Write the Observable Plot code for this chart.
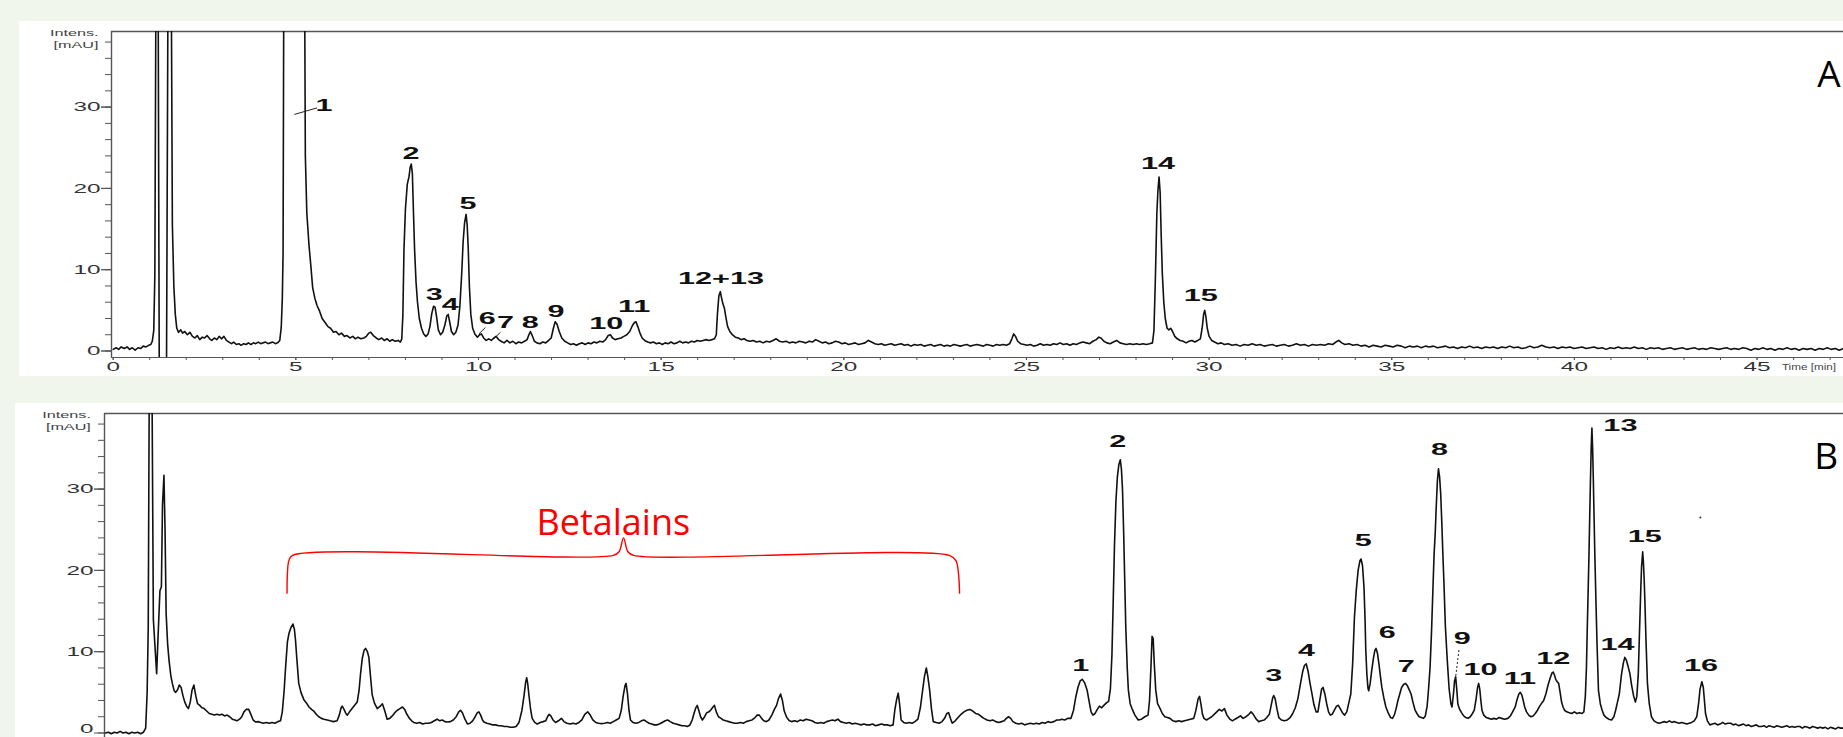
<!DOCTYPE html>
<html><head><meta charset="utf-8">
<script src="https://cdn.jsdelivr.net/npm/d3@7"></script>
<script src="https://cdn.jsdelivr.net/npm/@observablehq/plot@0.6"></script>
<style>
html,body{margin:0;padding:0;width:1843px;height:737px;overflow:hidden;background:#f1f6ed;}
.panel{position:absolute;background:#fff;overflow:hidden;}
.panel svg{max-width:none !important;}
#panelA{left:19px;top:21px;width:1824px;height:355px;}
#panelB{left:15px;top:403px;width:1828px;height:334px;}
</style></head><body>
<div id="panelA" class="panel"></div>
<div id="panelB" class="panel"></div>
<script>
// ---------- DATA ----------
// Panel A trace: [time (min), intensity (mAU)]; 45 = off-scale, -1.5 = below axis
const traceA = [
[0.00,0.2],[0.08,0.4],[0.15,0.2],[0.22,0.5],[0.30,0.3],[0.38,0.5],[0.45,0.2],[0.52,0.4],[0.60,0.1],[0.68,0.4],[0.75,0.3],[0.82,0.6],[0.90,0.5],[0.97,0.7],[1.03,0.8],
[1.07,1.2],[1.11,2.5],[1.14,9.3],[1.17,45],[1.23,45],[1.26,-1.5],[1.46,-1.5],[1.50,45],[1.59,45],[1.62,15.5],[1.66,8.0],[1.70,4.5],[1.74,2.8],[1.79,2.3],
[1.85,2.6],[1.90,2.2],[1.96,2.4],[2.03,2.0],[2.10,2.3],[2.17,1.8],[2.24,1.6],[2.30,1.9],[2.37,1.4],[2.44,1.7],[2.50,1.6],[2.57,1.9],[2.64,1.5],[2.70,1.3],[2.77,1.6],[2.84,1.4],[2.90,1.8],[2.97,1.5],[3.03,1.8],[3.10,1.3],[3.17,1.1],[3.24,0.9],[3.30,1.1],[3.37,0.8],[3.44,0.9],[3.50,0.7],[3.57,0.9],[3.64,0.8],[3.70,1.0],[3.77,0.8],[3.84,1.0],[3.90,0.9],[3.97,1.1],[4.04,0.9],[4.10,1.0],[4.17,1.1],[4.24,0.9],[4.30,1.0],[4.37,1.1],[4.44,0.9],[4.50,1.0],[4.56,1.3],
[4.60,2.9],[4.63,6.5],[4.65,12],[4.67,45],[5.24,45],[5.26,24],[5.30,17],[5.36,13],[5.41,10.5],[5.46,7.8],[5.52,6.5],[5.58,5.6],[5.65,4.9],[5.72,4.0],[5.80,3.5],[5.88,3.0],[5.95,2.8],[6.03,2.3],[6.10,2.4],[6.18,2.0],[6.25,2.2],[6.33,1.8],[6.40,1.9],[6.48,1.6],[6.56,1.8],[6.63,1.5],[6.70,1.7],[6.78,1.5],[6.86,1.6],[6.93,1.8],[7.00,2.2],[7.05,2.3],[7.12,1.9],[7.20,1.6],[7.27,1.4],[7.35,1.6],[7.42,1.3],[7.50,1.5],[7.57,1.2],[7.64,1.4],[7.72,1.2],[7.80,1.3],[7.86,1.1],
[7.90,1.5],[7.93,4.5],[7.96,12.5],[8.00,17.5],[8.05,20.5],[8.10,21.5],[8.13,22.6],[8.16,23.0],[8.19,21.8],[8.22,17],[8.25,12.5],[8.29,8.5],[8.33,6.0],[8.38,4.0],[8.44,2.8],[8.50,2.1],[8.56,1.8],[8.62,2.1],[8.67,3.0],[8.72,4.6],[8.77,5.5],[8.81,5.4],[8.85,4.3],[8.90,2.6],[8.96,2.0],[9.02,2.3],[9.08,3.2],[9.13,4.3],[9.17,4.5],[9.21,3.6],[9.26,2.4],[9.32,2.0],[9.38,2.3],[9.44,3.2],[9.49,5.5],[9.54,9.5],[9.58,13.5],[9.62,15.8],[9.66,16.8],[9.69,15.5],[9.72,12.5],[9.75,8.0],[9.79,4.5],[9.84,2.8],[9.90,2.1],[9.97,1.7],
[10.03,2.0],[10.08,2.1],[10.14,1.6],[10.21,1.3],[10.28,1.5],[10.35,1.3],[10.42,1.6],[10.48,1.8],[10.55,1.4],[10.62,1.2],[10.70,1.0],[10.78,1.3],[10.86,1.0],[10.94,1.2],[11.02,0.9],[11.10,1.1],[11.18,1.0],[11.26,1.2],[11.33,1.4],[11.38,2.0],[11.42,2.4],[11.47,1.9],[11.53,1.2],[11.60,1.0],[11.68,0.9],[11.76,1.1],[11.84,1.0],[11.92,1.3],[11.99,1.6],[12.05,2.8],[12.10,3.6],[12.15,3.3],[12.21,2.4],[12.28,1.6],[12.36,1.2],[12.44,1.0],[12.52,0.8],[12.60,0.9],[12.68,0.7],[12.76,0.9],[12.84,1.0],[12.92,0.8],[13.00,1.0],[13.08,0.9],[13.16,1.1],[13.24,1.0],[13.32,1.2],[13.40,1.1],[13.48,1.4],[13.55,1.9],[13.61,2.0],[13.67,1.6],[13.74,1.4],[13.82,1.5],[13.90,1.6],[13.98,1.8],[14.06,2.0],[14.14,2.4],[14.21,3.1],[14.27,3.5],[14.31,3.6],[14.36,3.0],[14.42,2.2],[14.48,1.6],[14.55,1.3],[14.63,1.1],[14.71,1.0],[14.79,1.1],[14.87,0.9],[14.95,1.0],
[15.03,0.8],[15.11,1.0],[15.19,0.9],[15.27,1.1],[15.35,0.9],[15.43,1.0],[15.51,1.2],[15.59,1.0],[15.67,1.1],[15.75,1.0],[15.83,1.2],[15.91,1.1],[15.99,1.3],[16.07,1.2],[16.15,1.3],[16.23,1.4],[16.31,1.3],[16.39,1.4],[16.46,1.5],[16.51,2.0],[16.54,4.5],[16.58,6.8],[16.62,7.3],[16.65,6.6],[16.69,5.8],[16.73,5.3],[16.77,4.2],[16.82,3.0],[16.88,2.4],[16.95,2.0],[17.03,1.7],[17.11,1.6],[17.19,1.4],[17.27,1.5],[17.35,1.3],[17.43,1.2],[17.52,1.3],[17.61,1.1],[17.70,1.2],[17.79,1.0],[17.88,1.2],[17.97,1.1],[18.06,1.3],[18.15,1.5],[18.24,1.2],[18.33,1.1],[18.42,1.2],[18.51,1.0],[18.60,1.1],[18.69,1.0],[18.78,1.2],[18.87,1.1],[18.96,1.0],[19.05,1.2],[19.14,1.1],[19.23,1.4],[19.32,1.2],[19.41,1.0],[19.50,1.1],[19.59,0.9],[19.68,1.0],[19.77,1.2],[19.86,1.1],[19.95,0.9],
[20.04,1.0],[20.13,0.8],[20.22,0.9],[20.31,1.0],[20.40,0.8],[20.49,0.9],[20.58,1.0],[20.67,1.3],[20.76,1.1],[20.85,0.9],[20.94,0.8],[21.03,0.9],[21.12,0.7],[21.21,0.8],[21.30,0.9],[21.39,0.7],[21.48,0.8],[21.57,0.9],[21.66,0.7],[21.75,0.8],[21.84,0.6],[21.93,0.8],[22.02,0.7],[22.11,0.8],[22.20,0.6],[22.29,0.7],[22.38,0.8],[22.47,0.6],[22.56,0.7],[22.65,0.8],[22.74,0.6],[22.83,0.7],[22.92,0.6],[23.01,0.8],[23.10,0.7],[23.19,0.6],[23.28,0.7],[23.37,0.8],[23.46,0.6],[23.55,0.7],[23.64,0.8],[23.73,0.7],[23.82,0.6],[23.91,0.8],[24.00,0.7],[24.09,0.6],[24.18,0.8],[24.27,0.7],[24.36,0.8],[24.45,0.7],[24.54,0.9],[24.60,1.5],[24.65,2.1],[24.70,1.8],[24.76,1.2],[24.84,0.9],[24.93,0.8],
[25.02,0.7],[25.11,0.8],[25.20,0.6],[25.29,0.7],[25.38,0.9],[25.47,0.7],[25.56,0.8],[25.65,0.7],[25.74,0.9],[25.83,0.8],[25.92,1.0],[26.01,0.8],[26.10,0.9],[26.19,0.7],[26.28,0.9],[26.37,0.8],[26.46,1.0],[26.55,1.1],[26.64,1.0],[26.73,0.9],[26.82,1.2],[26.91,1.4],[26.98,1.7],[27.04,1.6],[27.12,1.2],[27.20,1.0],[27.29,0.9],[27.38,1.1],[27.47,1.3],[27.56,1.0],[27.65,0.9],[27.74,0.8],[27.83,0.9],[27.92,0.8],[28.01,0.9],[28.10,0.8],[28.19,0.9],[28.28,0.8],[28.37,0.9],[28.45,1.0],
[28.49,2.5],[28.53,9],[28.57,17],[28.60,19.8],[28.63,21.4],[28.66,19.5],[28.69,14],[28.72,9.5],[28.76,6.0],[28.80,4.0],[28.85,2.8],[28.90,2.6],[28.95,2.8],[29.00,2.4],[29.06,1.8],[29.13,1.5],[29.21,1.3],[29.29,1.2],[29.37,1.0],[29.45,1.2],[29.53,1.3],[29.61,1.1],[29.69,1.3],[29.76,1.5],[29.81,2.8],[29.85,4.5],[29.88,5.0],[29.91,4.3],[29.95,2.8],[30.00,1.8],[30.07,1.3],[30.15,1.1],[30.24,0.9],[30.33,1.0],
[30.42,0.8],[30.52,0.9],[30.63,0.7],[30.74,0.8],[30.85,0.6],[30.96,0.8],[31.07,0.7],[31.18,0.9],[31.29,0.7],[31.40,0.8],[31.51,0.6],[31.62,0.7],[31.73,0.8],[31.84,0.6],[31.95,0.7],[32.06,0.8],[32.17,0.6],[32.28,0.7],[32.39,0.9],[32.50,0.7],[32.61,0.8],[32.72,0.6],[32.83,0.8],[32.94,0.7],[33.05,0.8],[33.16,0.7],[33.27,0.9],[33.38,0.8],[33.47,1.1],[33.55,1.3],[33.63,1.0],[33.72,0.8],[33.83,0.9],[33.94,0.7],[34.05,0.8],[34.16,0.6],[34.27,0.7],[34.38,0.5],[34.49,0.7],[34.60,0.6],[34.71,0.5],[34.82,0.7],[34.93,0.6],
[35.04,0.5],[35.15,0.7],[35.26,0.6],[35.37,0.4],[35.48,0.6],[35.59,0.5],[35.70,0.6],[35.81,0.4],[35.92,0.6],[36.03,0.5],[36.14,0.6],[36.25,0.4],[36.36,0.5],[36.47,0.6],[36.58,0.4],[36.69,0.5],[36.80,0.3],[36.91,0.5],[37.02,0.4],[37.13,0.6],[37.24,0.4],[37.35,0.5],[37.46,0.3],[37.57,0.5],[37.68,0.4],[37.79,0.5],[37.90,0.3],[38.01,0.5],[38.12,0.4],[38.23,0.6],[38.34,0.4],[38.45,0.5],[38.56,0.3],[38.67,0.4],[38.78,0.6],[38.89,0.4],[39.00,0.5],[39.11,0.7],[39.22,0.5],[39.33,0.4],[39.44,0.5],[39.55,0.3],[39.66,0.5],[39.77,0.4],[39.88,0.5],[39.99,0.3],
[40.10,0.4],[40.21,0.5],[40.32,0.3],[40.43,0.4],[40.54,0.5],[40.65,0.3],[40.76,0.4],[40.87,0.2],[40.98,0.4],[41.09,0.3],[41.20,0.5],[41.31,0.3],[41.42,0.4],[41.53,0.3],[41.64,0.5],[41.75,0.3],[41.86,0.4],[41.97,0.2],[42.08,0.4],[42.19,0.3],[42.30,0.4],[42.41,0.2],[42.52,0.3],[42.63,0.4],[42.74,0.2],[42.85,0.3],[42.96,0.4],[43.07,0.2],[43.18,0.3],[43.29,0.4],[43.40,0.2],[43.51,0.3],[43.62,0.2],[43.73,0.4],[43.84,0.3],[43.95,0.2],[44.06,0.3],[44.17,0.4],[44.28,0.2],[44.39,0.3],[44.50,0.2],[44.61,0.4],[44.72,0.3],[44.83,0.1],[44.94,0.3],
[45.05,0.2],[45.16,0.4],[45.27,0.2],[45.38,0.3],[45.49,0.1],[45.60,0.3],[45.71,0.2],[45.82,0.4],[45.93,0.2],[46.04,0.3],[46.15,0.1],[46.26,0.3],[46.37,0.2],[46.48,0.3],[46.59,0.1],[46.70,0.3],[46.81,0.2],[46.92,0.4],[47.03,0.2],[47.14,0.3],[47.25,0.1],[47.36,0.3],[47.47,0.2],[47.58,0.3],[47.70,0.2],[48.0,0.3]
];

// Panel B trace
const traceB = [
[0.00,0.0],[0.08,0.1],[0.16,-0.1],[0.24,0.1],[0.32,0.0],[0.40,0.2],[0.48,0.0],[0.56,0.1],[0.64,-0.1],[0.72,0.1],[0.80,0.0],[0.88,0.1],[0.96,-0.1],[1.04,0.1],
[1.10,0.6],[1.14,5.0],[1.17,13],[1.20,45],[1.27,45],[1.31,14],[1.35,11],[1.40,7.3],[1.44,12],[1.49,17.5],[1.53,18],[1.56,28],[1.60,31.7],[1.63,25],[1.66,14.7],[1.70,11],[1.74,8.9],[1.79,7.0],[1.83,6.1],[1.88,5.2],[1.92,5.0],[1.97,5.3],[2.02,5.9],[2.07,5.6],[2.12,4.6],[2.17,3.8],[2.22,3.3],[2.27,3.0],[2.32,3.8],[2.37,5.3],[2.42,5.9],[2.47,4.6],[2.52,3.6],[2.58,3.4],[2.64,3.1],[2.70,3.0],[2.77,2.7],[2.84,2.4],[2.91,2.3],[2.98,2.2],[3.05,2.3],[3.12,2.2],[3.19,2.3],[3.26,2.1],[3.33,2.2],[3.40,2.0],[3.47,1.7],[3.54,1.6],[3.60,1.5],[3.67,1.7],[3.73,2.0],[3.79,2.6],[3.85,2.9],[3.92,2.9],[3.98,2.3],[4.04,1.6],[4.11,1.35],[4.18,1.4],[4.25,1.3],[4.32,1.2],[4.40,1.3],[4.48,1.2],[4.56,1.3],[4.64,1.2],[4.72,1.4],[4.79,1.5],
[4.84,2.6],[4.89,5.2],[4.93,8.1],[4.98,11.2],[5.02,12.2],[5.08,13.0],[5.13,13.4],[5.17,12.8],[5.20,11.5],[5.24,9.0],[5.29,6.1],[5.35,5.0],[5.43,4.1],[5.50,3.7],[5.57,3.2],[5.64,2.9],[5.70,2.7],[5.77,2.3],[5.84,2.0],[5.91,1.8],[5.98,1.7],[6.07,1.6],[6.15,1.5],[6.24,1.4],[6.34,1.5],[6.40,2.2],[6.45,3.1],[6.48,3.3],[6.53,2.9],[6.58,2.4],[6.62,2.2],[6.68,2.6],[6.75,3.0],[6.82,3.4],[6.89,3.8],[6.94,5.2],[6.98,7.2],[7.03,9.2],[7.08,10.2],[7.12,10.4],[7.17,10.0],[7.21,9.3],[7.25,7.2],[7.30,4.7],[7.36,3.7],[7.44,3.0],[7.52,3.3],[7.58,3.6],[7.64,2.8],[7.71,1.7],[7.78,1.8],[7.85,2.1],[7.92,2.5],[7.99,2.8],[8.06,3.0],[8.13,3.2],[8.19,2.9],[8.25,2.3],[8.32,1.8],[8.38,1.5],[8.44,1.3],[8.52,1.2],[8.60,1.3],[8.68,1.1],[8.76,1.2],[8.84,1.2],[8.92,1.3],[9.00,1.5],[9.08,1.7],[9.15,1.5],[9.22,1.6],[9.29,1.4],[9.36,1.35],[9.44,1.4],[9.52,1.6],[9.60,2.0],[9.67,2.6],[9.72,2.8],[9.77,2.5],[9.84,1.7],[9.91,1.1],[9.98,1.2],
[10.05,1.5],[10.12,2.0],[10.18,2.5],[10.22,2.6],[10.27,2.2],[10.32,1.6],[10.36,1.35],[10.44,1.2],[10.52,1.1],[10.60,1.0],[10.68,1.0],[10.76,0.9],[10.84,0.9],[10.92,0.8],[11.00,0.8],[11.08,0.7],[11.16,0.7],[11.24,0.8],[11.32,1.3],[11.40,2.8],[11.46,4.7],[11.50,6.2],[11.53,6.8],[11.56,6.0],[11.59,4.7],[11.64,2.8],[11.68,1.8],[11.75,1.3],[11.82,1.1],[11.90,1.3],[11.98,1.4],[12.05,1.5],[12.10,2.0],[12.14,2.3],[12.19,2.1],[12.25,1.6],[12.32,1.3],[12.40,1.5],[12.48,1.8],[12.55,1.4],[12.63,1.2],[12.72,1.1],[12.80,1.2],[12.88,1.1],[12.96,1.3],[13.04,1.6],[13.12,2.3],[13.20,2.6],[13.27,2.2],[13.34,1.6],[13.42,1.3],[13.50,1.2],[13.58,1.15],[13.66,1.2],[13.74,1.3],[13.82,1.2],[13.90,1.4],[13.98,1.6],[14.06,1.8],[14.12,2.8],[14.17,4.5],[14.22,5.8],[14.25,6.1],[14.29,4.8],[14.33,2.8],[14.37,1.6],[14.44,1.3],[14.52,1.2],[14.60,1.3],[14.67,1.5],[14.74,1.6],[14.81,1.4],[14.88,1.2],[14.95,1.1],
[15.02,1.0],[15.09,1.0],[15.16,1.1],[15.24,1.3],[15.32,1.5],[15.39,1.6],[15.46,1.4],[15.54,1.2],[15.62,1.1],[15.70,1.0],[15.78,0.9],[15.86,0.9],[15.93,0.8],[16.00,1.0],[16.06,1.6],[16.11,2.4],[16.16,3.1],[16.20,3.4],[16.24,2.8],[16.29,2.0],[16.34,1.6],[16.40,2.0],[16.46,2.5],[16.52,2.6],[16.58,2.9],[16.63,3.2],[16.67,3.4],[16.72,2.6],[16.78,2.0],[16.85,1.8],[16.91,1.6],[16.98,1.5],[17.06,1.4],[17.14,1.3],[17.22,1.2],[17.30,1.2],[17.38,1.3],[17.46,1.2],[17.54,1.4],[17.62,1.5],[17.70,1.6],[17.78,1.9],[17.84,2.2],[17.90,2.2],[17.96,1.8],[18.02,1.5],[18.09,1.4],[18.16,1.6],[18.24,2.2],[18.31,2.9],[18.37,3.4],[18.42,4.2],[18.48,4.8],[18.53,4.0],[18.58,2.7],[18.65,1.9],[18.72,1.5],[18.78,1.4],[18.86,1.5],[18.94,1.4],[19.02,1.6],[19.10,1.5],[19.18,1.7],[19.26,1.6],[19.34,1.5],[19.42,1.3],[19.50,1.2],[19.58,1.3],[19.66,1.2],[19.74,1.4],[19.82,1.5],[19.90,1.6],[19.97,1.5],
[20.05,1.7],[20.12,1.4],[20.20,1.3],[20.28,1.2],[20.36,1.3],[20.44,1.1],[20.52,1.2],[20.60,1.1],[20.68,1.0],[20.76,1.1],[20.84,1.0],[20.92,1.0],[21.00,1.1],[21.08,0.9],[21.16,1.0],[21.24,1.1],[21.32,1.0],[21.40,1.0],[21.48,0.9],[21.56,1.0],[21.61,2.9],[21.66,4.2],[21.70,4.9],[21.74,3.5],[21.78,1.6],[21.85,1.3],[21.92,1.2],[22.00,1.3],[22.08,1.2],[22.16,1.4],[22.24,1.7],[22.31,3.2],[22.37,5.3],[22.42,7.0],[22.47,8.0],[22.51,7.0],[22.56,5.3],[22.61,3.0],[22.66,1.4],[22.74,1.3],[22.82,1.2],[22.90,1.4],[22.97,1.8],[23.03,2.4],[23.08,2.5],[23.13,1.8],[23.18,1.2],[23.26,1.5],[23.34,1.9],[23.42,2.3],[23.50,2.6],[23.58,2.8],[23.66,2.9],[23.74,2.7],[23.82,2.4],[23.90,2.3],[23.98,2.0],[24.05,1.8],[24.13,1.6],[24.21,1.5],[24.29,1.6],[24.37,1.4],[24.45,1.3],[24.53,1.4],[24.60,1.5],[24.66,1.8],[24.72,2.0],[24.78,1.8],[24.84,1.4],[24.92,1.2],
[25.00,1.1],[25.08,1.2],[25.16,1.0],[25.24,1.1],[25.32,1.2],[25.40,1.1],[25.48,1.2],[25.56,1.1],[25.64,1.3],[25.72,1.2],[25.80,1.4],[25.88,1.3],[25.96,1.4],[26.04,1.6],[26.11,1.6],[26.18,1.7],[26.26,1.6],[26.34,1.8],[26.43,1.8],[26.50,2.8],[26.56,4.4],[26.62,5.6],[26.68,6.4],[26.74,6.6],[26.80,6.2],[26.87,5.3],[26.93,3.8],[26.98,2.6],[27.03,2.2],[27.09,2.4],[27.15,2.9],[27.21,3.3],[27.27,3.1],[27.33,3.4],[27.40,3.7],[27.46,3.9],[27.51,5.5],[27.55,9.5],[27.58,15],[27.62,23],[27.66,28.5],[27.70,31.5],[27.74,33.0],[27.78,33.6],[27.81,32.5],[27.84,30],[27.87,25],[27.90,19],[27.93,13],[27.97,8],[28.00,5.3],[28.05,3.6],[28.11,2.9],[28.18,2.2],[28.27,1.6],[28.36,1.7],[28.45,2.0],[28.54,2.2],[28.58,4.0],[28.62,8.2],[28.65,11.9],[28.68,11.6],[28.71,8.5],[28.75,5.3],[28.80,3.6],[28.87,3.0],[28.93,2.4],[29.00,2.0],[29.07,1.9],[29.14,1.8],[29.22,1.5],[29.30,1.4],[29.38,1.5],[29.46,1.4],[29.54,1.5],[29.62,1.6],[29.70,1.7],[29.79,1.8],[29.85,2.8],[29.91,4.2],[29.95,4.5],[29.99,3.5],
[30.03,2.3],[30.07,1.8],[30.14,1.6],[30.21,1.8],[30.28,2.0],[30.35,2.3],[30.42,2.6],[30.49,2.9],[30.56,2.7],[30.63,3.0],[30.70,2.2],[30.78,1.7],[30.85,1.5],[30.92,1.7],[31.00,1.9],[31.07,2.1],[31.14,1.8],[31.22,2.0],[31.30,2.3],[31.36,2.6],[31.42,2.3],[31.50,1.7],[31.57,1.4],[31.64,1.5],[31.72,1.6],[31.79,1.9],[31.86,2.3],[31.91,3.4],[31.95,4.3],[31.98,4.6],[32.02,4.2],[32.07,2.9],[32.12,1.9],[32.19,1.6],[32.27,1.5],[32.35,1.6],[32.43,1.9],[32.50,2.4],[32.57,3.1],[32.64,4.2],[32.71,6.0],[32.77,7.5],[32.82,8.3],[32.87,8.5],[32.92,7.6],[32.97,6.2],[33.02,5.0],[33.08,3.5],[33.14,2.6],[33.19,2.6],[33.24,4.0],[33.29,5.4],[33.33,5.6],[33.38,4.8],[33.43,3.6],[33.48,2.6],[33.53,2.2],[33.58,2.3],[33.64,2.8],[33.70,3.3],[33.75,3.4],[33.80,3.0],[33.86,2.5],[33.92,2.2],[33.98,2.6],
[34.04,3.8],[34.09,4.8],[34.14,8.5],[34.19,14.3],[34.24,17.6],[34.29,20.0],[34.34,21.2],[34.37,21.4],[34.41,20.6],[34.45,18.0],[34.48,14.0],[34.50,10.2],[34.53,7.2],[34.56,5.5],[34.58,5.2],[34.62,6.1],[34.66,7.6],[34.71,9.2],[34.75,10.2],[34.78,10.4],[34.82,9.8],[34.86,8.5],[34.90,7.0],[34.94,5.6],[34.99,4.4],[35.05,3.2],[35.12,2.4],[35.18,1.9],[35.23,1.8],[35.28,2.2],[35.33,3.0],[35.38,4.0],[35.43,4.8],[35.48,5.6],[35.54,6.0],[35.59,6.1],[35.64,5.8],[35.69,5.3],[35.74,4.8],[35.79,3.8],[35.85,2.8],[35.90,2.4],[35.96,2.0],[36.02,1.9],[36.08,1.8],[36.13,2.1],[36.18,3.3],[36.22,5.5],[36.26,8.1],[36.30,12.5],[36.34,18],[36.37,22],[36.40,24.5],[36.43,28],[36.46,31],[36.49,32.5],[36.52,31.5],[36.55,29.5],[36.58,26],[36.61,22],[36.64,18.4],[36.68,13],[36.73,9.0],[36.78,5.5],[36.83,3.6],[36.86,3.2],[36.90,4.8],[36.93,6.4],[36.96,6.9],[36.99,5.4],
[37.02,3.6],[37.06,3.0],[37.12,2.5],[37.18,2.1],[37.24,1.9],[37.30,1.8],[37.36,2.0],[37.42,2.4],[37.47,2.8],[37.52,4.2],[37.56,5.6],[37.59,6.1],[37.62,5.4],[37.65,4.0],[37.68,2.8],[37.73,2.2],[37.80,1.9],[37.87,1.8],[37.94,1.7],[38.01,1.8],[38.08,1.7],[38.15,1.9],[38.22,1.8],[38.30,1.7],[38.39,1.8],[38.46,2.1],[38.53,2.7],[38.59,3.2],[38.64,4.1],[38.69,4.8],[38.73,5.0],[38.77,4.7],[38.81,4.0],[38.85,3.2],[38.90,2.6],[38.96,2.2],[39.02,2.0],[39.08,2.1],[39.14,2.4],[39.20,2.8],[39.26,3.3],[39.32,3.7],[39.37,4.0],[39.43,4.8],[39.49,5.9],[39.55,6.8],[39.60,7.4],[39.63,7.5],[39.66,7.2],[39.70,6.6],[39.74,6.3],[39.78,6.1],[39.82,5.0],[39.86,3.8],[39.90,3.2],[39.94,2.8],
[40.00,2.6],[40.07,2.5],[40.14,2.4],[40.21,2.6],[40.28,2.4],[40.35,2.5],[40.42,2.4],[40.47,2.6],[40.51,4.5],[40.54,8],[40.56,12.2],[40.59,18],[40.61,22],[40.63,26.6],[40.65,31],[40.67,35],[40.69,37.5],[40.71,35],[40.73,31],[40.74,28.6],[40.77,22],[40.80,16.3],[40.83,11],[40.87,5.2],[40.92,3.6],[40.97,2.8],[41.02,2.2],[41.08,1.9],[41.15,1.7],[41.23,1.6],[41.29,2.0],[41.34,2.8],[41.39,3.8],[41.44,4.8],[41.50,7.2],[41.55,8.6],[41.59,9.3],[41.63,9.0],[41.68,8.2],[41.73,7.3],[41.78,5.8],[41.83,4.6],[41.88,3.8],[41.92,4.5],[41.96,7.3],[41.99,12],[42.01,15],[42.03,18.0],[42.05,20.5],[42.08,22.3],[42.10,21],[42.12,19],[42.14,16.3],[42.17,11.5],[42.21,6.1],[42.26,3.6],[42.32,2.0],[42.39,1.5],[42.46,1.3],[42.53,1.2],[42.60,1.3],[42.67,1.4],[42.74,1.3],[42.81,1.5],[42.88,1.3],[42.94,1.4],
[43.01,1.3],[43.08,1.2],[43.15,1.3],[43.22,1.2],[43.29,1.1],[43.35,1.2],[43.42,1.3],[43.49,1.5],[43.56,2.0],[43.61,3.6],[43.65,5.4],[43.70,6.3],[43.74,5.6],[43.77,4.0],[43.80,2.4],[43.85,1.5],[43.92,1.0],[43.99,1.1],[44.06,1.2],[44.13,1.0],[44.20,1.1],[44.27,1.3],[44.34,1.1],[44.41,1.2],[44.49,1.2],[44.56,1.0],[44.63,1.1],[44.70,0.9],[44.77,1.0],[44.84,1.1],[44.91,0.9],[44.98,1.0],[45.05,0.8],[45.12,0.9],[45.19,1.0],[45.26,0.8],[45.33,0.8],[45.40,0.9],[45.47,0.7],[45.54,0.9],[45.61,0.8],[45.68,0.7],[45.75,0.9],[45.82,0.8],[45.89,0.7],[45.96,0.8],[46.03,0.9],[46.10,0.7],[46.17,0.8],[46.24,0.7],[46.31,0.8],[46.38,0.8],[46.45,0.6],[46.52,0.8],[46.59,0.7],[46.66,0.6],[46.73,0.8],[46.80,0.7],[46.87,0.6],[46.94,0.7],[47.01,0.6],[47.08,0.7],[47.15,0.5],[47.22,0.7],[47.29,0.6],[47.36,0.5],[47.43,0.7],[47.50,0.6],[47.60,0.6],[48.0,0.5]
];

// Peak labels: [text, time, intensity]
const peakLabelsA = [["1",5.77,30.2],["2",8.15,24.3],["3",8.79,7.0],["4",9.23,5.7],["5",9.71,18.1],["6",10.24,4.0],["7",10.74,3.5],["8",11.42,3.5],["9",12.12,4.8],["10",13.50,3.4],["11",14.26,5.5],["12+13",16.64,8.9],["14",28.60,23.1],["15",29.77,6.8]];
const peakLabelsB = [["1",26.70,8.3],["2",27.71,35.8],["3",31.98,7.1],["4",32.88,10.2],["5",34.43,23.7],["6",35.09,12.3],["7",35.61,8.2],["8",36.52,34.9],["9",37.14,11.6],["10",37.64,7.8],["11",38.72,6.7],["12",39.63,9.2],["13",41.47,37.8],["14",41.39,10.9],["15",42.14,24.2],["16",43.68,8.3]];
// leader lines [t1, v1, t2, v2]
const leadersA = [[4.96,29.1,5.58,29.9],[10.01,2.1,10.19,2.9],[10.42,1.5,10.60,2.3]];
const leadersB = [[37.05,10.2,36.96,6.9]];
// stray dot in B
const strayB = [[43.66,26.5]];
// Betalains brace (panel B)
const braceB = [[4.97,17.2],[4.98,19.6],[5.02,21.2],[5.12,21.85],[13.90,21.85],[14.06,22.3],[14.18,24.0],[14.30,22.3],[14.46,21.85],[23.10,21.85],[23.28,21.2],[23.35,19.6],[23.38,17.2]];
const braceText = ["Betalains", 13.9, 25.8];

const yMajorTicks = [0,10,20,30];
const yMinorTicks = [0,2,4,6,8,10,12,14,16,18,20,22,24,26,28,30,32,34,36,38];
const xMajorTicks = [0,5,10,15,20,25,30,35,40,45];
const xMinorTicks = [0,1,2,3,4,5,6,7,8,9,10,11,12,13,14,15,16,17,18,19,20,21,22,23,24,25,26,27,28,29,30,31,32,33,34,35,36,37,38,39,40,41,42,43,44,45,46,47,48,49,50];

// ---------- LAYOUT ----------
const PX_PER_MIN = 36.53;
const W = 1960, H = 355, MT = 10, MB = 19;
const Y_DOMAIN = [-0.8, 39.3];
const STRETCH = 1.8;

// stretch the old-style wide instrument font; aria-label "plain" = no stretch, "s1.3" = custom factor
function stretchText(svg) {
  svg.querySelectorAll("text").forEach(t => {
    const tag = t.getAttribute("aria-label") || "";
    if (tag === "plain") return;
    const f = tag.startsWith("s") ? +tag.slice(1) : STRETCH;
    const spans = t.querySelectorAll("tspan");
    const els = spans.length ? Array.from(spans) : [t];
    for (const el of els) {
      const len = el.getComputedTextLength();
      if (len > 0) {
        el.setAttribute("textLength", (len * f).toFixed(1));
        el.setAttribute("lengthAdjust", "spacingAndGlyphs");
      }
    }
  });
}

function draw(container, cfg) {
  const axisT = (cfg.marginLeft - cfg.x0) / PX_PER_MIN; // time at the left axis line
  const labelTicks = cfg.zeroLabelDy ? yMajorTicks.filter(d => d !== 0) : yMajorTicks;
  const marks = [
    Plot.ruleY([Y_DOMAIN[1]], {stroke: "#555", strokeWidth: 1.4}),
    Plot.ruleX([axisT], {stroke: "#555", strokeWidth: 1.4}),
    Plot.axisY(yMinorTicks, {tickSize: 6, tickFormat: () => "", label: null, stroke: "#555"}),
    Plot.axisY(yMajorTicks, {tickSize: 10, tickFormat: () => "", label: null, stroke: "#555"}),
    Plot.axisY(labelTicks, {tickSize: 10, tickPadding: 1, label: null, stroke: "#555", fill: "#333", fontSize: 13.5}),
    Plot.line(cfg.trace, {x: d => d[0], y: d => d[1], stroke: "#111", strokeWidth: 1.6, clip: true}),
    Plot.text(["Intens.", "[mAU]"], {x: [-0.40, -0.40], y: [39.05, 37.6], text: d => d, textAnchor: "end", fontSize: 9, fill: "#444"}),
    Plot.link(cfg.leaders, {x1: d => d[0], y1: d => d[1], x2: d => d[2], y2: d => d[3], stroke: "#222", strokeWidth: 1, strokeDasharray: cfg.leaderDash}),
    Plot.text(cfg.labels, {x: d => d[1], y: d => d[2], text: d => d[0], fontWeight: "bold", fontSize: 17, fill: "#111"}),
    Plot.text([cfg.letter], {x: cfg.letterT, y: 33.9, text: d => d, textAnchor: "start", fontSize: 37, fontFamily: "Open Sans", fill: "#000", ariaLabel: () => "plain"})
  ];
  if (cfg.zeroLabelDy) {
    marks.push(Plot.axisY([0], {tickSize: 0, tickPadding: 11, dy: cfg.zeroLabelDy, label: null, fill: "#333", fontSize: 13.5}));
  }
  if (cfg.showXAxis) {
    marks.push(
      Plot.ruleY([Y_DOMAIN[0]], {stroke: "#555", strokeWidth: 1.2}),
      Plot.axisX(xMinorTicks, {tickSize: 3, tickFormat: () => "", label: null, stroke: "#555"}),
      Plot.axisX(xMajorTicks, {tickSize: 3, tickPadding: 1, label: null, stroke: "#555", fill: "#333", fontSize: 13.5}),
      Plot.text(["Time [min]"], {x: 45.68, y: -2.0, text: d => d, textAnchor: "start", fontSize: 9, fill: "#444", ariaLabel: () => "s1.3"})
    );
  }
  if (cfg.extra) marks.push(...cfg.extra);
  const svg = Plot.plot({
    width: W, height: H,
    marginLeft: cfg.marginLeft, marginRight: 0, marginTop: MT, marginBottom: MB,
    x: {domain: [0, 50], range: [cfg.x0, cfg.x0 + 50 * PX_PER_MIN], axis: cfg.showXAxis ? undefined : null},
    y: {domain: Y_DOMAIN},
    style: {fontFamily: "'Liberation Sans', Arial, sans-serif", fontSize: "13px", color: "#444", background: "transparent", overflow: "visible", maxWidth: "none"},
    marks
  });
  svg.style.maxWidth = "none";
  svg.style.width = W + "px";
  svg.style.height = H + "px";
  container.appendChild(svg);
  stretchText(svg);
}

draw(document.getElementById("panelA"), {
  trace: traceA, labels: peakLabelsA, leaders: leadersA, leaderDash: null,
  letter: "A", letterT: 46.65, marginLeft: 92, x0: 93.7, showXAxis: true
});

draw(document.getElementById("panelB"), {
  trace: traceB, labels: peakLabelsB, leaders: leadersB, leaderDash: "2,2",
  letter: "B", letterT: 46.78, marginLeft: 89, x0: 90, showXAxis: false, zeroLabelDy: -4,
  extra: [
    Plot.line(braceB, {x: d => d[0], y: d => d[1], stroke: "#ff0000", strokeWidth: 1.4, curve: "catmull-rom"}),
    Plot.text([braceText], {x: d => d[1], y: d => d[2], text: d => d[0], fontSize: 36, fontFamily: "Open Sans", fill: "#ff0000", ariaLabel: () => "plain"}),
    Plot.dot(strayB, {x: d => d[0], y: d => d[1], r: 1, fill: "#333"})
  ]
});
</script>
</body></html>
